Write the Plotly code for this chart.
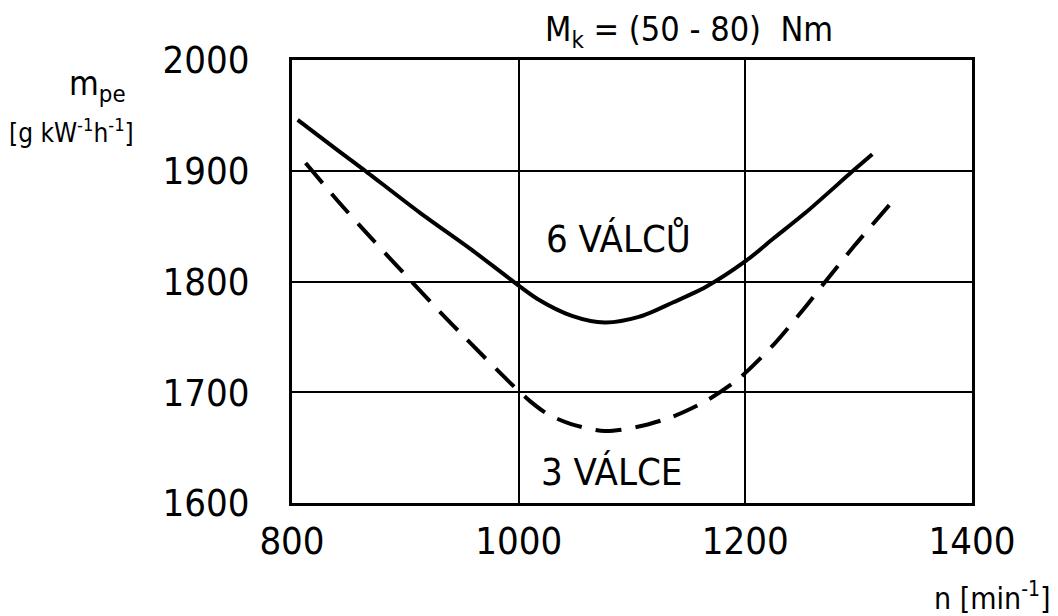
import plotly.graph_objects as go

# Data
n_6 = [805, 841, 862, 913, 958, 994, 1017, 1047, 1076, 1106, 1136, 1165, 1201, 1225, 1253, 1294, 1312]
m_6 = [1946, 1918, 1902, 1862, 1829, 1801, 1784, 1769, 1763, 1768, 1781, 1795, 1819, 1839, 1862, 1899, 1915]

n_3 = [812, 841, 871, 900, 932, 953, 994, 1010, 1026, 1047, 1076, 1106, 1136, 1165, 1195, 1225, 1253, 1273, 1296, 1327]
m_3 = [1907, 1872, 1838, 1806, 1771, 1749, 1707, 1692, 1680, 1671, 1665, 1669, 1678, 1692, 1713, 1743, 1777, 1803, 1832, 1869]

x_ticks = [800, 1000, 1200, 1400]
y_ticks = [1600, 1700, 1800, 1900, 2000]

FONT = "DejaVu Sans Condensed, DejaVu Sans, sans-serif"

# target plot box in page pixels
L, T, W, H = 291, 59, 680, 443
OFF = 7  # page body offset

fig = go.Figure()
fig.add_trace(go.Scatter(x=n_6, y=m_6, mode="lines", line=dict(color="black", width=4, shape="spline", smoothing=0.8),
                         name="6 VÁLCŮ", showlegend=False))
fig.add_trace(go.Scatter(x=n_3, y=m_3, mode="lines", line=dict(color="black", width=4, dash="26px,14px", shape="spline", smoothing=0.8),
                         name="3 VÁLCE", showlegend=False))

fig.update_layout(
    width=1058, height=616,
    margin=dict(l=L - OFF, r=1058 - (L - OFF) - W, t=T - OFF, b=616 - (T - OFF) - H),
    paper_bgcolor="white", plot_bgcolor="white",
    font=dict(family=FONT, color="black"),
    xaxis=dict(range=[800, 1400], tickvals=x_ticks, ticktext=[str(v) for v in x_ticks],
               showgrid=True, gridcolor="black", gridwidth=2, zeroline=False,
               showline=True, linecolor="black", linewidth=3, mirror=True,
               ticks="", ticklabelstandoff=2, tickfont=dict(size=38, family=FONT)),
    yaxis=dict(range=[1600, 2000], tickvals=y_ticks, ticktext=[str(v) for v in y_ticks],
               showgrid=True, gridcolor="black", gridwidth=2, zeroline=False,
               showline=True, linecolor="black", linewidth=3, mirror=True,
               ticks="", ticklabelstandoff=32, tickfont=dict(size=38, family=FONT)),
)


def px_ann(text, px, py, size, anchor="center"):
    fig.add_annotation(text=text, xref="paper", yref="paper",
                       x=(px - L) / W, y=1 - (py - T) / H,
                       xanchor=anchor, yanchor="middle", showarrow=False,
                       font=dict(size=size, family=FONT))


px_ann("M<sub>k</sub> = (50 - 80)  Nm", 688, 30, 34)
px_ann("m<sub>pe</sub>", 66, 84, 34, "left")
px_ann("[g kW<sup>-1</sup>h<sup>-1</sup>]", 6, 130, 26, "left")
px_ann("n [min<sup>-1</sup>]", 1052, 595, 30, "right")
fig.add_annotation(text="6 VÁLCŮ", x=1088, y=1838, showarrow=False, font=dict(size=38, family=FONT))
fig.add_annotation(text="3 VÁLCE", x=1082, y=1628, showarrow=False, font=dict(size=38, family=FONT))

fig.write_html("out.html")
